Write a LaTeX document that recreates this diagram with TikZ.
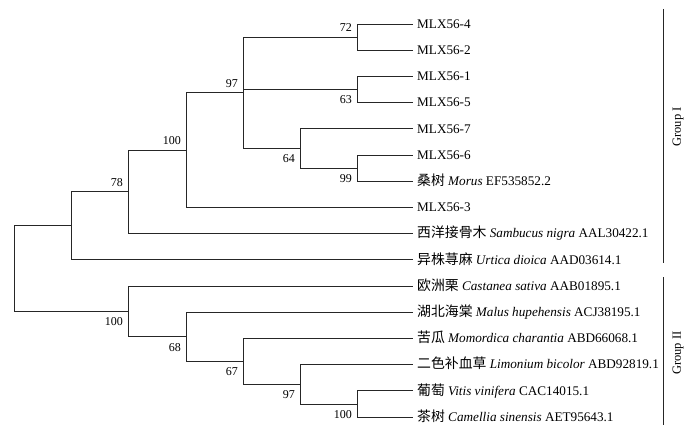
\documentclass[tikz,border=0pt]{standalone}
\usepackage{fontspec}
\setmainfont{Liberation Serif}
\newfontfamily\cjk[Scale=1.05]{Noto Sans CJK SC}

\begin{document}
\begin{tikzpicture}[x=1pt, y=-1pt,
  branch/.style={draw=black!85, line width=0.8pt},
  leaf/.style={anchor=west, inner xsep=4pt, inner ysep=0pt,
    text height=8.6pt, text depth=0pt, font=\fontsize{13.2}{15}\selectfont},
  bs/.style={inner sep=0pt, text height=8pt, text depth=0pt,
    font=\fontsize{12}{12}\selectfont},
  bsup/.style={bs, anchor=south east, xshift=-5pt, yshift=5pt},
  bsdn/.style={bs, anchor=north east, xshift=-5pt, yshift=-6pt},
  grp/.style={rotate=90, font=\fontsize{12.5}{14}\selectfont}]
  \useasboundingbox (0,0) rectangle (698,438);
  % leaves
  \foreach \txt [count=\i] in {MLX56-4, MLX56-2, MLX56-1, MLX56-5, MLX56-7, MLX56-6,
      {{\cjk 桑树} \textit{Morus} EF535852.2}, MLX56-3,
      {{\cjk 西洋接骨木} \textit{Sambucus nigra} AAL30422.1},
      {{\cjk 异株荨麻} \textit{Urtica dioica} AAD03614.1},
      {{\cjk 欧洲栗} \textit{Castanea sativa} AAB01895.1},
      {{\cjk 湖北海棠} \textit{Malus hupehensis} ACJ38195.1},
      {{\cjk 苦瓜} \textit{Momordica charantia} ABD66068.1},
      {{\cjk 二色补血草} \textit{Limonium bicolor} ABD92819.1},
      {{\cjk 葡萄} \textit{Vitis vinifera} CAC14015.1},
      {{\cjk 茶树} \textit{Camellia sinensis} AET95643.1}}
    \node[leaf] (L\i) at (413,{24+26.2*(\i-1)}) {\txt};
  % inner nodes
  \coordinate (root) at (14,268.6);
  \coordinate (n0) at (71,225.8);
  \coordinate (n78) at (128,191.9);
  \coordinate (n100a) at (186,150.1);
  \coordinate (n97a) at (243,92.8);
  \coordinate (n72) at (357,37.1);
  \coordinate (n63) at (357,89.5);
  \coordinate (n64) at (300,148.5);
  \coordinate (n99) at (357,168.1);
  \coordinate (n100b) at (128,311.4);
  \coordinate (n68) at (186,336.8);
  \coordinate (n67) at (243,361.3);
  \coordinate (n97b) at (300,384.3);
  \coordinate (n100c) at (357,403.9);
  % branches
  \foreach \p/\c in {root/n0, root/n100b, n0/n78, n0/L10.west, n78/n100a, n78/L9.west,
      n100a/n97a, n100a/L8.west, n97a/n72, n97a/n63, n97a/n64,
      n72/L1.west, n72/L2.west, n63/L3.west, n63/L4.west, n64/L5.west, n64/n99,
      n99/L6.west, n99/L7.west, n100b/L11.west, n100b/n68, n68/L12.west, n68/n67,
      n67/L13.west, n67/n97b, n97b/L14.west, n97b/n100c,
      n100c/L15.west, n100c/L16.west}
    \draw[branch] (\p) |- (\c);
  % bootstrap values
  \foreach \c/\v in {n72/72, n97a/97, n100a/100, n78/78}
    \node[bsup] (b\c) at (\c) {\v};
  \foreach \c/\v in {n63/63, n64/64, n99/99, n100b/100, n68/68, n67/67, n97b/97, n100c/100}
    \node[bsdn] (b\c) at (\c) {\v};
  % groups
  \coordinate (g1t) at (663,9);
  \coordinate (g1b) at (663,263);
  \coordinate (g2t) at (663,277);
  \coordinate (g2b) at (663,425);
  \draw[branch] (g1t) -- (g1b);
  \draw[branch] (g2t) -- (g2b);
  \node[grp] (g1) at (678,127) {Group I};
  \node[grp] (g2) at (678,353) {Group II};
\end{tikzpicture}
\end{document}
